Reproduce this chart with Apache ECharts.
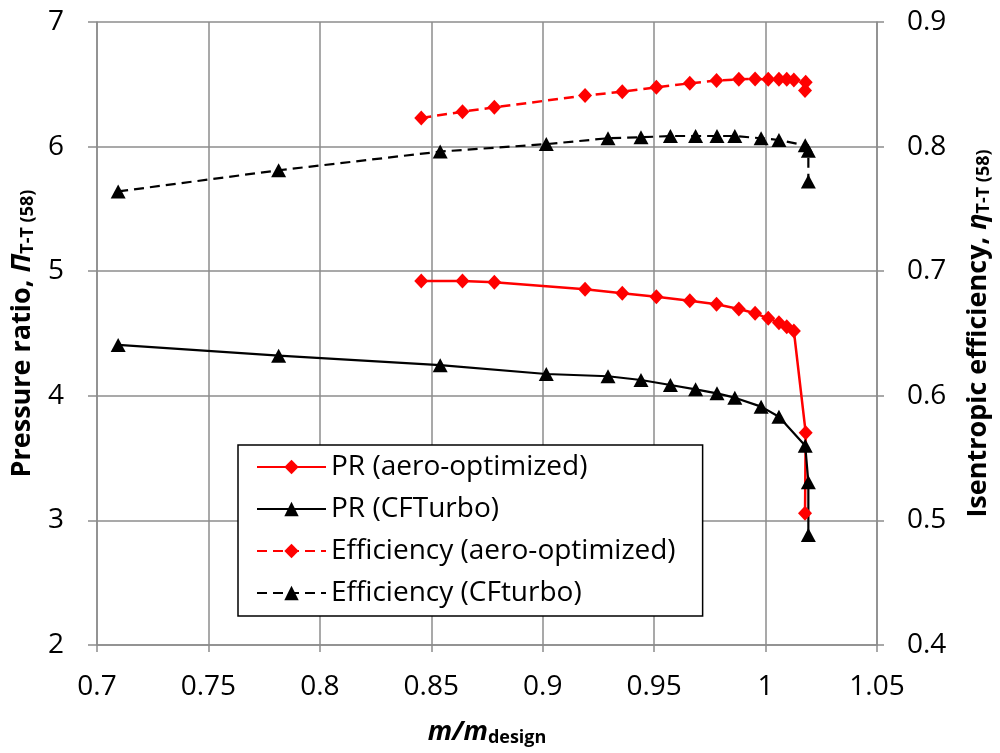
<!DOCTYPE html>
<html>
<head>
<meta charset="utf-8">
<script src="https://cdn.jsdelivr.net/npm/echarts@6/dist/echarts.min.js"></script>
<style>
  html, body { margin: 0; padding: 0; background: #fff; }
  #chart { width: 1000px; height: 753px; }
</style>
</head>
<body>
<div id="chart"></div>
<script>
// Mass flow ratio m/m_design for each operating point
const aeroFlow = [0.8455, 0.864, 0.8783, 0.919, 0.9357, 0.951, 0.966, 0.978, 0.988, 0.9953, 1.0012, 1.006, 1.0095, 1.0127, 1.018, 1.0177];
const aeroPR = [4.921, 4.921, 4.911, 4.855, 4.823, 4.795, 4.763, 4.734, 4.697, 4.662, 4.622, 4.587, 4.555, 4.52, 3.704, 3.057];
const aeroEff = [0.823, 0.828, 0.8315, 0.841, 0.844, 0.8476, 0.8508, 0.853, 0.854, 0.8543, 0.854, 0.854, 0.854, 0.8535, 0.8516, 0.845];

const cftFlow = [0.7095, 0.7815, 0.854, 0.9016, 0.9293, 0.9441, 0.9573, 0.9686, 0.9782, 0.9862, 0.998, 1.006, 1.0178, 1.0192, 1.0192];
const cftPR = [4.408, 4.322, 4.246, 4.175, 4.157, 4.127, 4.087, 4.052, 4.02, 3.985, 3.913, 3.832, 3.60, 3.306, 2.883];
const cftEff = [0.764, 0.781, 0.796, 0.802, 0.8067, 0.8075, 0.8085, 0.8085, 0.8085, 0.8085, 0.8067, 0.8053, 0.801, 0.7967, 0.772];

const seriesNames = ['PR (aero-optimized)', 'PR (CFTurbo)', 'Efficiency (aero-optimized)', 'Efficiency (CFturbo)'];

const pairs = (xs, ys) => xs.map((x, i) => [x, ys[i]]);

const FONT = 'Open Sans';
const GRID_GRAY = '#8c8c8c';

const nameRich = {
  b: { fontFamily: FONT, fontWeight: 'bold', fontSize: 27, color: '#000' },
  bi: { fontFamily: FONT, fontWeight: 'bold', fontStyle: 'italic', fontSize: 27, color: '#000' },
  sub: { fontFamily: FONT, fontWeight: 'bold', fontSize: 18, color: '#000', padding: [12, 0, 0, 0] }
};

const chart = echarts.init(document.getElementById('chart'), null, { renderer: 'canvas' });

const option = {
  backgroundColor: '#fff',
  animation: false,
  grid: { left: 97, right: 123, top: 22, bottom: 108, outerBoundsMode: 'none', containLabel: false },
  legend: {
    orient: 'vertical',
    left: 238,
    top: 445,
    padding: [7, 27, 8, 18],
    itemWidth: 69,
    itemHeight: 18,
    itemGap: 12,
    backgroundColor: '#fff',
    borderColor: '#000',
    borderWidth: 1.5,
    borderRadius: 0,
    textStyle: { fontFamily: FONT, fontSize: 28, color: '#000', lineHeight: 30 },
    data: seriesNames
  },
  xAxis: {
    type: 'value',
    min: 0.7,
    max: 1.05,
    interval: 0.05,
    name: '{bi|m}{bi|/}{bi|m}{sub|design}',
    nameLocation: 'middle',
    nameGap: 72,
    nameTextStyle: { rich: nameRich },
    axisLine: { show: true, onZero: false, lineStyle: { color: GRID_GRAY, width: 1.5 } },
    axisTick: { show: true, length: 7, lineStyle: { color: GRID_GRAY, width: 1.5 } },
    splitLine: { show: true, lineStyle: { color: GRID_GRAY, width: 1.5 } },
    axisLabel: { fontFamily: FONT, fontSize: 28, color: '#000', margin: 28 }
  },
  yAxis: [
    {
      type: 'value',
      position: 'left',
      min: 2,
      max: 7,
      interval: 1,
      name: '{b|Pressure ratio, }{bi|Π}{sub|T-T (58)}',
      nameLocation: 'middle',
      nameGap: 56,
      nameRotate: 90,
      nameTextStyle: { rich: nameRich },
      axisLine: { show: true, lineStyle: { color: GRID_GRAY, width: 1.5 } },
      axisTick: { show: true, length: 9, lineStyle: { color: GRID_GRAY, width: 1.5 } },
      splitLine: { show: true, lineStyle: { color: GRID_GRAY, width: 1.5 } },
      axisLabel: { fontFamily: FONT, fontSize: 28, color: '#000', margin: 33 }
    },
    {
      type: 'value',
      position: 'right',
      min: 0.4,
      max: 0.9,
      interval: 0.1,
      name: '{b|Isentropic efficiency, }{bi|η}{sub|T-T (58)}',
      nameLocation: 'middle',
      nameGap: 86,
      nameRotate: 90,
      nameTextStyle: { rich: nameRich },
      axisLine: { show: true, lineStyle: { color: GRID_GRAY, width: 1.5 } },
      axisTick: { show: true, length: 7, lineStyle: { color: GRID_GRAY, width: 1.5 } },
      splitLine: { show: false },
      axisLabel: { fontFamily: FONT, fontSize: 28, color: '#000', margin: 30 }
    }
  ],
  series: [
    {
      name: seriesNames[0],
      type: 'line',
      yAxisIndex: 0,
      data: pairs(aeroFlow, aeroPR),
      symbol: 'diamond',
      symbolSize: [14, 15],
      itemStyle: { color: '#ff0000' },
      lineStyle: { color: '#ff0000', width: 2.5 }
    },
    {
      name: seriesNames[1],
      type: 'line',
      yAxisIndex: 0,
      data: pairs(cftFlow, cftPR),
      symbol: 'triangle',
      symbolSize: [15, 14],
      itemStyle: { color: '#000' },
      lineStyle: { color: '#000', width: 2.2 }
    },
    {
      name: seriesNames[2],
      type: 'line',
      yAxisIndex: 1,
      data: pairs(aeroFlow, aeroEff),
      symbol: 'diamond',
      symbolSize: [14, 15],
      itemStyle: { color: '#ff0000' },
      lineStyle: { color: '#ff0000', width: 2.5, type: [10, 6] }
    },
    {
      name: seriesNames[3],
      type: 'line',
      yAxisIndex: 1,
      data: pairs(cftFlow, cftEff),
      symbol: 'triangle',
      symbolSize: [15, 14],
      itemStyle: { color: '#000' },
      lineStyle: { color: '#000', width: 2.2, type: [10, 6] }
    }
  ]
};

chart.setOption(option);
</script>
</body>
</html>
